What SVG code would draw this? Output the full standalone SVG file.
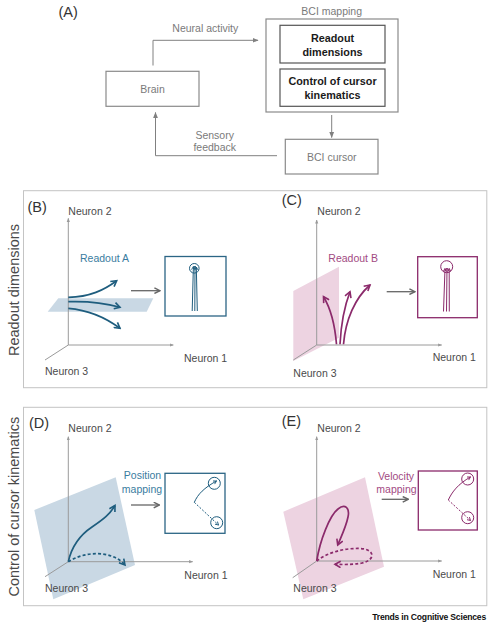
<svg xmlns="http://www.w3.org/2000/svg" width="489" height="625" viewBox="0 0 489 625">
<style>
text{font-family:"Liberation Sans",Arial,sans-serif}
.lbl{font-size:10.5px;fill:#7a7a7a}
.bold{font-size:10.8px;font-weight:bold;fill:#1a1a1a}
.pan{font-size:14.5px;fill:#333}
.neu{font-size:10.5px;fill:#4a4a4a}
.side{font-size:14.5px;fill:#4a4a4a}
.gbox{fill:#fff;stroke:#8a8a8a;stroke-width:1.2}
.ibox{fill:#fff;stroke:#555;stroke-width:1.2}
.panel{fill:none;stroke:#c4c4c4;stroke-width:1}
.ax{stroke:#9a9a9a;stroke-width:1;fill:none}
.garr{stroke:#666;stroke-width:1.3;fill:none}
.flow{stroke:#808080;stroke-width:1;fill:none}
.bl{stroke:#1e5d7e;stroke-width:1.7;fill:none}
.mg{stroke:#8b2a6b;stroke-width:1.7;fill:none}
.bls{stroke:#1e5d7e;stroke-width:1;fill:none}
.mgs{stroke:#8b2a6b;stroke-width:1;fill:none}
.dash{stroke-dasharray:3 2.2}
.dashs{stroke-dasharray:2 1.6}
.bbox{fill:#fff;stroke:#2b6585;stroke-width:1.3}
.mbox{fill:#fff;stroke:#8b2a6b;stroke-width:1.3}
.bplane{fill:#c9d8e4}
.mplane{fill:#edd3e1}
.btext{font-size:10.5px;fill:#3a7ca0}
.mtext{font-size:10.5px;fill:#a24a82}
.foot{font-size:8.6px;font-weight:bold;fill:#111;letter-spacing:-0.2px}
</style>
<defs>
<marker id="fa" viewBox="0 0 10 10" refX="9" refY="5" markerWidth="6" markerHeight="6" markerUnits="userSpaceOnUse" orient="auto"><path d="M0,1 L10,5 L0,9 z" fill="#808080"/></marker>
<marker id="ga" viewBox="0 0 10 10" refX="9" refY="5" markerWidth="7" markerHeight="7" markerUnits="userSpaceOnUse" orient="auto"><path d="M1,1 L9,5 L1,9" fill="none" stroke="#666" stroke-width="2"/></marker>
<marker id="axa" viewBox="0 0 10 10" refX="9" refY="5" markerWidth="4" markerHeight="4" markerUnits="userSpaceOnUse" orient="auto"><path d="M0,1 L10,5 L0,9 z" fill="#9a9a9a"/></marker>
<marker id="ba" viewBox="0 0 10 10" refX="8" refY="5" markerWidth="8" markerHeight="8" markerUnits="userSpaceOnUse" orient="auto"><path d="M1,1 L8,5 L1,9" fill="none" stroke="#1e5d7e" stroke-width="2"/></marker>
<marker id="ma" viewBox="0 0 10 10" refX="8" refY="5" markerWidth="8" markerHeight="8" markerUnits="userSpaceOnUse" orient="auto"><path d="M1,1 L8,5 L1,9" fill="none" stroke="#8b2a6b" stroke-width="2"/></marker>
<marker id="bas" viewBox="0 0 10 10" refX="8" refY="5" markerWidth="4.5" markerHeight="4.5" markerUnits="userSpaceOnUse" orient="auto"><path d="M1,1 L8,5 L1,9" fill="none" stroke="#1e5d7e" stroke-width="2"/></marker>
<marker id="mas" viewBox="0 0 10 10" refX="8" refY="5" markerWidth="4.5" markerHeight="4.5" markerUnits="userSpaceOnUse" orient="auto"><path d="M1,1 L8,5 L1,9" fill="none" stroke="#8b2a6b" stroke-width="2"/></marker>
</defs>

<!-- Panel A -->
<text class="pan" x="58.5" y="16.5">(A)</text>
<g id="brain"><rect class="gbox" x="106" y="71.3" width="93" height="35"/><text class="lbl" x="152.5" y="93" text-anchor="middle">Brain</text></g>
<g id="bci-mapping">
<text class="lbl" x="331.7" y="15" text-anchor="middle">BCI mapping</text>
<rect class="gbox" x="266" y="19" width="132" height="93"/>
<g id="readout-dimensions"><rect class="ibox" x="280" y="25.3" width="105" height="37.7"/>
<text class="bold" x="332.5" y="41.5" text-anchor="middle">Readout</text><text class="bold" x="332.5" y="55.5" text-anchor="middle">dimensions</text></g>
<g id="control-kinematics"><rect class="ibox" x="280" y="69" width="105" height="37.3"/>
<text class="bold" x="332.5" y="85.2" text-anchor="middle">Control of cursor</text><text class="bold" x="332.5" y="99" text-anchor="middle">kinematics</text></g>
</g>
<g id="bci-cursor"><rect class="gbox" x="285.3" y="139.3" width="92.7" height="34.7"/><text class="lbl" x="331.8" y="160.8" text-anchor="middle">BCI cursor</text></g>
<g id="connectors-a">
<path class="flow" d="M153,65.5 V40.3 H258" marker-end="url(#fa)"/>
<text class="lbl" x="205.3" y="31.5" text-anchor="middle">Neural activity</text>
<path class="flow" d="M331.7,115 V137.5" marker-end="url(#fa)"/>
<path class="flow" d="M277,155.7 H155.5 V112.5" marker-end="url(#fa)"/>
<text class="lbl" x="214.7" y="138.5" text-anchor="middle">Sensory</text>
<text class="lbl" x="214.7" y="151" text-anchor="middle">feedback</text>
</g>

<!-- Row panels -->
<rect class="panel" x="23.5" y="190.7" width="463.3" height="197"/>
<rect class="panel" x="23.5" y="407.3" width="463.3" height="198.4"/>
<text class="side" transform="translate(19,290) rotate(-90)" text-anchor="middle">Readout dimensions</text>
<text class="side" transform="translate(19,506.7) rotate(-90)" text-anchor="middle">Control of cursor kinematics</text>

<!-- Panel B -->
<g id="panel-b">
<text class="pan" x="27.5" y="211.5">(B)</text>
<polygon class="bplane" points="47.7,311.7 146.7,311.7 153.3,298.3 58.3,298.3"/>
<path class="ax" d="M68.3,345 V218.3" marker-end="url(#axa)"/>
<path class="ax" d="M68.3,345 H173.3" marker-end="url(#axa)"/>
<path class="ax" d="M68.3,345 L45,360"/>
<text class="neu" x="68.3" y="214.5">Neuron 2</text>
<text class="neu" x="184" y="362">Neuron 1</text>
<text class="neu" x="45" y="375.3">Neuron 3</text>
<text class="btext" x="80" y="261.5">Readout A</text>
<path class="bl" d="M68.3,297.3 C90,297 104,290 116.7,280.7" marker-end="url(#ba)"/>
<path class="bl" d="M68.3,301.7 C90,301 105,303 120,307.3" marker-end="url(#ba)"/>
<path class="bl" d="M68.3,308.3 C88,310 105,317 120,328.3" marker-end="url(#ba)"/>
<path class="garr" d="M131,290.7 H160" marker-end="url(#ga)"/>
<rect class="bbox" x="165" y="256.5" width="61" height="59.5"/>
<circle class="bls" cx="194.3" cy="268.3" r="4.8"/>
<path class="bls" d="M192.2,311 L193.4,266.5" marker-end="url(#bas)"/>
<path class="bls" d="M194.8,311 L195,266" marker-end="url(#bas)"/>
<path class="bls" d="M197.3,311 L196.3,267" marker-end="url(#bas)"/>
</g>

<!-- Panel C -->
<g id="panel-c">
<text class="pan" x="281.7" y="205">(C)</text>
<polygon class="mplane" points="293.3,291 339,266.7 339,337.7 293.3,361"/>
<path class="ax" d="M316.7,345 V220" marker-end="url(#axa)"/>
<path class="ax" d="M316.7,345 H441.7" marker-end="url(#axa)"/>
<path class="ax" d="M316.7,345 L293.3,360"/>
<text class="neu" x="317.3" y="214.5">Neuron 2</text>
<text class="neu" x="432.7" y="361.3">Neuron 1</text>
<text class="neu" x="293.3" y="376.5">Neuron 3</text>
<text class="mtext" x="328.3" y="261.5">Readout B</text>
<path class="mg" d="M336.5,344.3 C335,326 331,309 323.5,296.7" marker-end="url(#ma)"/>
<path class="mg" d="M340,344.3 C341,325 344.5,306 350,291.7" marker-end="url(#ma)"/>
<path class="mg" d="M343.5,344.3 C345.5,320 355,298 370,285" marker-end="url(#ma)"/>
<path class="garr" d="M386.7,291.7 H415" marker-end="url(#ga)"/>
<rect class="mbox" x="417.7" y="256.7" width="59.6" height="61"/>
<circle class="mgs" cx="446.7" cy="266.7" r="6"/>
<path class="mgs" d="M443.5,311.5 L445,268.5" marker-end="url(#mas)"/>
<path class="mgs" d="M446.5,311.5 L447,268" marker-end="url(#mas)"/>
<path class="mgs" d="M449.3,311.5 L449.2,268.5" marker-end="url(#mas)"/>
</g>

<!-- Panel D -->
<g id="panel-d">
<text class="pan" x="29" y="428">(D)</text>
<polygon class="bplane" points="34.3,510 115.7,477.3 135,565 53.3,599.3"/>
<path class="ax" d="M68.3,561.7 V436.7" marker-end="url(#axa)"/>
<path class="ax" d="M68.3,561.7 H192.7" marker-end="url(#axa)"/>
<path class="ax" d="M68.3,561.7 L45,576.7"/>
<text class="neu" x="68.3" y="432">Neuron 2</text>
<text class="neu" x="184.3" y="578.5">Neuron 1</text>
<text class="neu" x="45" y="592">Neuron 3</text>
<path class="bl" d="M68.3,561.7 C72,545 80,535 92,527 C104,519 110,514 115,505.5" marker-end="url(#ba)"/>
<path class="bl dash" d="M68.3,561.7 C85,551 112,550 125,565" marker-end="url(#ba)"/>
<text class="btext" x="142.5" y="478.5" text-anchor="middle">Position</text>
<text class="btext" x="142" y="493" text-anchor="middle">mapping</text>
<path class="garr" d="M131,505 H159.3" marker-end="url(#ga)"/>
<rect class="bbox" x="165" y="473.3" width="60" height="60"/>
<circle class="bls" cx="214.3" cy="483.3" r="6"/>
<circle class="bls" cx="216.7" cy="522.7" r="6"/>
<path class="bls" d="M194.3,502.3 C198,494 204,488 216.5,481" marker-end="url(#bas)"/>
<path class="bls dashs" d="M194.3,502.3 L218.5,525" marker-end="url(#bas)"/>
</g>

<!-- Panel E -->
<g id="panel-e">
<text class="pan" x="281.7" y="426">(E)</text>
<polygon class="mplane" points="283.3,511.7 365,477.3 384,566.7 303.3,599.3"/>
<path class="ax" d="M316.7,561 V436.7" marker-end="url(#axa)"/>
<path class="ax" d="M316.7,561 H441.7" marker-end="url(#axa)"/>
<path class="ax" d="M316.7,561 L292.7,577.7"/>
<text class="neu" x="317.3" y="432">Neuron 2</text>
<text class="neu" x="432.7" y="578">Neuron 1</text>
<text class="neu" x="293.3" y="592">Neuron 3</text>
<path class="mg" d="M316.7,561 C320,540 330,515 338,509 C345,503 350,508 348,517 C346,527 341,537 337.7,545" marker-end="url(#ma)"/>
<path class="mg dash" d="M316.7,561 C328,552 345,548 360,548.5 C375,549 376,560 362,563 C352,565 343,564.5 335,564.3" marker-end="url(#ma)"/>
<text class="mtext" x="396" y="479.5" text-anchor="middle">Velocity</text>
<text class="mtext" x="396.5" y="493" text-anchor="middle">mapping</text>
<path class="garr" d="M381.7,499.3 H408.3" marker-end="url(#ga)"/>
<rect class="mbox" x="418.3" y="471" width="59" height="59"/>
<circle class="mgs" cx="467.7" cy="479" r="6"/>
<circle class="mgs" cx="467.7" cy="517.7" r="6"/>
<path class="mgs" d="M448.3,500 C452,492 458,484 470.5,477" marker-end="url(#mas)"/>
<path class="mgs dashs" d="M448.3,500 L470.5,520.5" marker-end="url(#mas)"/>
</g>

<text class="foot" x="486" y="620" text-anchor="end">Trends in Cognitive Sciences</text>
</svg>
